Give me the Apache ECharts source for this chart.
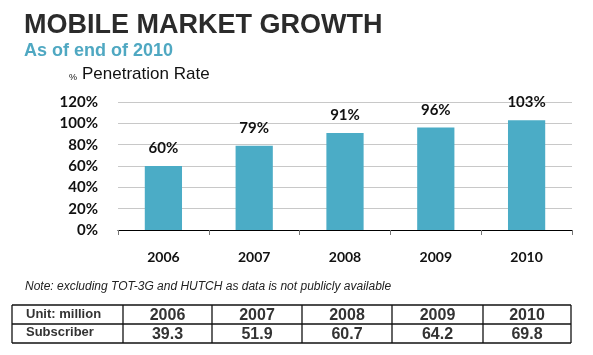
<!DOCTYPE html>
<html>
<head>
<meta charset="utf-8">
<script src="https://cdn.jsdelivr.net/npm/echarts@6/dist/echarts.min.js"></script>
<style>
html,body{margin:0;padding:0;background:#fff;}
#chart{width:593px;height:355px;}
</style>
</head>
<body>
<div id="chart"></div>
<script>
var years = ['2006', '2007', '2008', '2009', '2010'];
var penetration = [60, 79, 91, 96, 103];
var subscribers = ['39.3', '51.9', '60.7', '64.2', '69.8'];
var yTicks = [0, 20, 40, 60, 80, 100, 120];

var chart = echarts.init(document.getElementById('chart'));

// table geometry
var colX = [12, 123, 212, 302, 392, 483, 571];
var rowY = [305, 324, 343];
var textColor = '#333333';
var graphics = [];
rowY.forEach(function (y) {
  graphics.push({type: 'line', shape: {x1: colX[0], y1: y, x2: colX[colX.length - 1], y2: y}, style: {stroke: '#111', lineWidth: 1.3}});
});
colX.forEach(function (x) {
  graphics.push({type: 'line', shape: {x1: x, y1: rowY[0], x2: x, y2: rowY[2]}, style: {stroke: '#111', lineWidth: 1.3}});
});
graphics.push({type: 'text', left: 26, top: rowY[0] + 3, style: {text: 'Unit: million', font: 'bold 13px "Liberation Sans", Arial', fill: textColor}});
graphics.push({type: 'text', left: 26, top: rowY[1] + 2, style: {text: 'Subscriber', font: 'bold 13px "Liberation Sans", Arial', fill: textColor}});
years.forEach(function (yr, i) {
  var cx = (colX[i + 1] + colX[i + 2]) / 2;
  graphics.push({type: 'text', x: cx, y: (rowY[0] + rowY[1]) / 2 + 1, style: {text: yr, font: 'bold 16px "Liberation Sans", Arial', fill: textColor, textAlign: 'center', textVerticalAlign: 'middle'}});
  graphics.push({type: 'text', x: cx, y: (rowY[1] + rowY[2]) / 2 + 1, style: {text: subscribers[i], font: 'bold 16px "Liberation Sans", Arial', fill: textColor, textAlign: 'center', textVerticalAlign: 'middle'}});
});
// titles
graphics.push({type: 'text', left: 24, top: 12, style: {text: 'MOBILE MARKET GROWTH', font: 'bold 27px "Liberation Sans", Arial', fill: '#2b2b2b'}});
graphics.push({type: 'text', left: 24, top: 42, style: {text: 'As of end of 2010', font: 'bold 18px "Liberation Sans", Arial', fill: '#4fa8c2'}});
graphics.push({type: 'text', left: 69, top: 73, style: {text: '%', font: '9px "Liberation Sans", Arial', fill: '#111'}});
graphics.push({type: 'text', left: 82, top: 66, style: {text: 'Penetration Rate', font: '17px "Liberation Sans", Arial', fill: '#111'}});
graphics.push({type: 'text', left: 25, top: 281, style: {text: 'Note: excluding TOT-3G and HUTCH as data is not publicly available', font: 'italic 12px "Liberation Sans", Arial', fill: '#222'}});

chart.setOption({
  animation: false,
  backgroundColor: '#fff',
  grid: {left: 118, right: 21, top: 102, bottom: 125},
  xAxis: {
    type: 'category',
    data: years,
    axisLine: {lineStyle: {color: '#000', width: 1.2}},
    axisTick: {show: true, length: 5, lineStyle: {color: '#777'}},
    axisLabel: {margin: 20, color: '#111', fontFamily: 'Lato', fontWeight: 'bold', fontSize: 14}
  },
  yAxis: {
    type: 'value',
    min: 0, max: 120, interval: 20,
    axisLine: {show: false},
    axisTick: {show: false},
    splitLine: {lineStyle: {color: '#c8c8c8', width: 1}},
    axisLabel: {margin: 20, color: '#111', fontFamily: 'Lato', fontWeight: 'bold', fontSize: 15,
      formatter: function (v) { return yTicks.indexOf(v) >= 0 ? v + '%' : ''; }}
  },
  series: [{
    type: 'bar',
    data: penetration,
    barWidth: '41%',
    itemStyle: {color: '#4bacc6'},
    label: {show: true, position: 'top', distance: 10, formatter: '{c}%', color: '#111', fontFamily: 'Lato', fontWeight: 'bold', fontSize: 15}
  }],
  graphic: graphics
});
</script>
</body>
</html>
